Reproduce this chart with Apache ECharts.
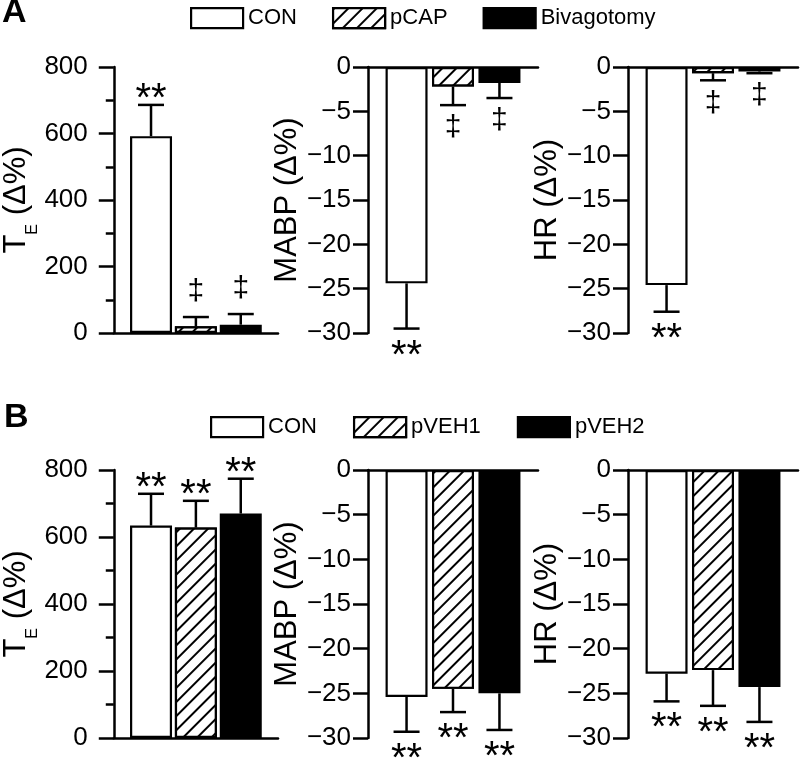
<!DOCTYPE html>
<html><head><meta charset="utf-8">
<script src="https://cdn.jsdelivr.net/npm/echarts@6/dist/echarts.min.js"></script>
<style>html,body{margin:0;padding:0;background:#fff}#c{width:800px;height:758px}</style>
</head><body><div id="c"></div>
<script>
// ---- data ----
const groupsA = ['CON', 'pCAP', 'Bivagotomy'];
const groupsB = ['CON', 'pVEH1', 'pVEH2'];
const teA = [592, 20, 25];
const teAErr = [94, 28, 32];
const mabpA = [-24.4, -2.2, -1.8];
const mabpAErr = [5.1, 2.1, 1.7];
const hrA = [-24.6, -0.7, -0.5];
const hrAErr = [3.0, 0.8, 0.2];
const teB = [634, 628, 670];
const teBErr = [95, 80, 104];
const mabpB = [-25.4, -24.5, -25.0];
const mabpBErr = [3.9, 2.6, 4.1];
const hrB = [-22.8, -22.4, -24.3];
const hrBErr = [3.1, 4.0, 3.9];
const marksA = ['**', '\u2021', '\u2021'];
const marksB = ['**', '**', '**'];
const teTicks = {min: 0, max: 800, interval: 200};
const pctTicks = {min: -30, max: 0, interval: 5};
const nameTE = '{t|T}{s|E}{t| (\u0394%)}';
const nameMABP = 'MABP (\u0394%)';
const nameHR = 'HR (\u0394%)';

// ---- layout ----
const FONT = '"Liberation Sans", Arial, sans-serif';
const lefts = [108, 368, 628];
const rows = [{top: 67, height: 266}, {top: 470, height: 268}];
const xPos = [0.83, 1.83, 2.83];
const XMAX = 3.66;

const panels = [
  {row: 0, col: 0, groups: groupsA, v: teA, e: teAErr, m: marksA, name: nameTE, ax: teTicks, te: true},
  {row: 0, col: 1, groups: groupsA, v: mabpA, e: mabpAErr, m: marksA, name: nameMABP, ax: pctTicks},
  {row: 0, col: 2, groups: groupsA, v: hrA, e: hrAErr, m: marksA, name: nameHR, ax: pctTicks},
  {row: 1, col: 0, groups: groupsB, v: teB, e: teBErr, m: marksB, name: nameTE, ax: teTicks, te: true},
  {row: 1, col: 1, groups: groupsB, v: mabpB, e: mabpBErr, m: marksB, name: nameMABP, ax: pctTicks},
  {row: 1, col: 2, groups: groupsB, v: hrB, e: hrBErr, m: marksB, name: nameHR, ax: pctTicks}
];

const barStyles = [
  {color: '#fff', borderColor: '#000', borderWidth: 2.2},
  {color: '#fff', borderColor: '#000', borderWidth: 2.2,
   decal: {symbol: 'rect', symbolSize: 1, dashArrayX: [1, 0], dashArrayY: [1.6, 7.6],
           rotation: -Math.PI / 4, color: '#000', backgroundColor: '#fff'}},
  {color: '#000', borderColor: '#000', borderWidth: 2.2}
];

const grids = [], xAxes = [], yAxes = [], series = [];
panels.forEach((p, k) => {
  grids.push({left: lefts[p.col], width: 170, top: rows[p.row].top, height: rows[p.row].height});
  xAxes.push({type: 'value', gridIndex: k, min: 0, max: XMAX,
    axisLine: {onZero: true, lineStyle: {color: '#000', width: 2.5}},
    axisTick: {show: false}, axisLabel: {show: false}, splitLine: {show: false}});
  yAxes.push({type: 'value', gridIndex: k, min: p.ax.min, max: p.ax.max, interval: p.ax.interval,
    axisLine: {show: true, onZero: false, lineStyle: {color: '#000', width: 2.5}},
    axisTick: {show: true, length: 15, lineStyle: {color: '#000', width: 2.5}},
    minorTick: p.te ? {show: true, splitNumber: 2, length: 8, lineStyle: {color: '#000', width: 2.5}} : {show: false},
    splitLine: {show: false}, minorSplitLine: {show: false},
    axisLabel: {margin: p.te ? 26 : 17, fontSize: 26, color: '#000', fontFamily: FONT,
      formatter: v => String(v).replace('-', '\u2212')},
    name: p.name, nameLocation: 'middle', nameGap: p.te ? 72 : 62,
    nameTextStyle: p.te ? {rich: {
        t: {fontSize: 31, fontFamily: FONT, color: '#000', lineHeight: 48, verticalAlign: 'middle'},
        s: {fontSize: 16, fontFamily: FONT, color: '#000', lineHeight: 48, verticalAlign: 'bottom'}}}
      : {fontSize: 31, fontFamily: FONT, color: '#000'}
  });
  p.groups.forEach((g, i) => {
    series.push({name: g, type: 'bar', xAxisIndex: k, yAxisIndex: k, barWidth: 42, barGap: '-100%',
      itemStyle: barStyles[i], data: [[xPos[i], p.v[i]]], animation: false, z: 2});
  });
  series.push({name: 'err' + k, type: 'custom', xAxisIndex: k, yAxisIndex: k, z: 3, animation: false,
    data: p.v.map((v, i) => [xPos[i], v, p.e[i], i]),
    renderItem: (params, api) => {
      const x = api.value(0), m = api.value(1), e = api.value(2), i = api.value(3);
      const s = m >= 0 ? 1 : -1;
      const p0 = api.coord([x, m]);
      const p1 = api.coord([x, m + s * e]);
      const mk = p.m[i];
      let ty;
      if (mk === '**') ty = s > 0 ? p1[1] - 5 : p1[1] + 28;
      else ty = s > 0 ? p1[1] - 25 : p1[1] + 23;
      const ls = {stroke: '#000', lineWidth: 2.5};
      return {type: 'group', children: [
        {type: 'line', shape: {x1: p0[0], y1: p0[1], x2: p1[0], y2: p1[1]}, style: ls},
        {type: 'line', shape: {x1: p1[0] - 13, y1: p1[1], x2: p1[0] + 13, y2: p1[1]}, style: ls},
        {type: 'text', style: {text: mk, x: p1[0], y: ty, fill: '#000',
          fontSize: mk === '**' ? 40 : 30, fontFamily: FONT, align: 'center', verticalAlign: 'middle'}}
      ]};
    }
  });
});

const legendBase = {orient: 'horizontal', itemWidth: 52, itemHeight: 20, icon: 'rect', selectedMode: false,
  textStyle: {fontSize: 22, color: '#000', fontFamily: FONT},
  itemStyle: {borderColor: '#000', borderWidth: 2.2}};

const chart = echarts.init(document.getElementById('c'), null, {renderer: 'canvas'});
chart.setOption({
  backgroundColor: '#fff',
  animation: false,
  grid: grids, xAxis: xAxes, yAxis: yAxes, series: series,
  legend: [
    Object.assign({}, legendBase, {data: groupsA, left: 185, top: 2, itemGap: 35}),
    Object.assign({}, legendBase, {data: groupsB, left: 205, top: 411, itemGap: 36})
  ],
  graphic: [
    {type: 'text', left: 2, top: -4, style: {text: 'A', font: 'bold 34px ' + FONT, fill: '#000'}},
    {type: 'text', left: 4, top: 401, style: {text: 'B', font: 'bold 34px ' + FONT, fill: '#000'}}
  ]
});
</script></body></html>
